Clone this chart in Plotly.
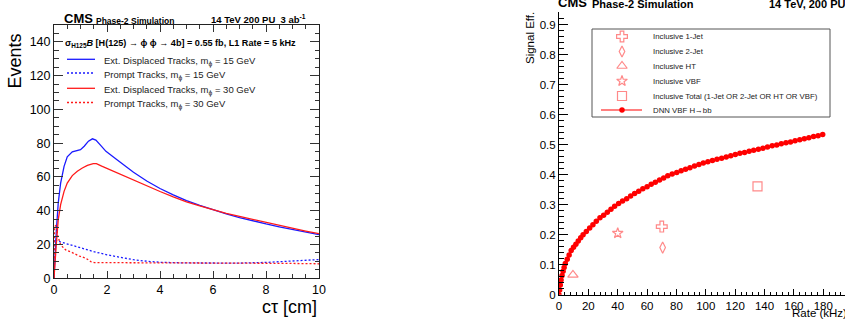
import plotly.graph_objects as go

# ---------------- DATA ----------------
# Left panel: Events vs c*tau [cm]
ct_ext15 = [0, 0.03, 0.09, 0.16, 0.25, 0.38, 0.5, 0.69, 0.88, 1.0, 1.14, 1.3, 1.45, 1.58, 1.77, 1.96,
            2.34, 2.71, 3.0, 3.5, 4.0, 4.5, 5.0, 5.5, 6.0, 6.5, 7.0, 7.5, 8.0, 8.5, 9.0, 9.5, 10.0]
ev_ext15 = [0, 14, 28.7, 44.6, 56.4, 66.3, 71.9, 74.9, 75.8, 76.2, 78.2, 81.2, 82.6, 81.8, 78.6, 75.2,
            70.7, 66.3, 62.8, 57.6, 53.2, 49.4, 46.0, 43.2, 40.6, 38.2, 36.0, 34.0, 32.2, 30.5, 28.9, 27.3, 25.8]

ct_prompt15 = [0, 0.01, 0.25, 0.5, 1.0, 1.5, 2.0, 2.5, 3.0, 3.5, 4.0, 5.0, 6.0, 7.0, 8.0, 9.0, 10.0]
ev_prompt15 = [0, 23, 21.5, 20.3, 18, 15.8, 13.9, 12.3, 11.0, 10.1, 9.5, 9.1, 9.0, 9.0, 9.4, 10.2, 11.1]

ct_ext30 = [0, 0.03, 0.09, 0.16, 0.25, 0.38, 0.5, 0.69, 0.88, 1.07, 1.26, 1.48, 1.6, 1.8, 2.0, 2.5,
            3.0, 3.5, 4.0, 4.5, 5.0, 5.5, 6.0, 6.5, 7.0, 7.5, 8.0, 8.5, 9.0, 9.5, 10.0]
ev_ext30 = [0, 10, 20.8, 34.7, 43.6, 51.5, 56.4, 60.8, 63.4, 65.3, 66.9, 67.9, 67.9, 66.4, 65.0, 61.8,
            58.3, 54.8, 51.4, 48.2, 45.3, 42.9, 40.6, 38.5, 36.6, 34.8, 33.0, 31.3, 29.7, 28.0, 26.4]

ct_prompt30 = [0, 0.02, 0.08, 0.13, 0.25, 0.44, 0.69, 0.95, 1.2, 1.39, 1.52, 1.7, 2.5, 4.0, 5.0, 6.0,
               7.0, 8.0, 9.0, 10.0]
ev_prompt30 = [0, 30.5, 31.5, 25.7, 19.8, 16.8, 15.2, 13.2, 11.9, 9.9, 9.3, 9.3, 9.2, 9.2, 9.2, 9.1,
               9.0, 8.9, 8.8, 8.6]

# Right panel: signal efficiency vs rate [kHz]
dnn_rate = [0.0, 0.45, 0.9, 1.4, 2.1, 2.8, 3.5, 4.3, 5.6, 6.9, 8.3, 9.9, 11.5, 13.1, 14.8, 16.4,
            18.6, 20.9, 23.1, 25.4, 27.9, 30.4, 32.9, 35.4, 37.9, 40.6, 43.3, 46.1, 48.8, 51.5, 54.3,
            57.1, 60.0, 62.8, 65.6, 68.5, 71.3, 74.1, 77.1, 80.2, 83.2, 86.2, 89.2, 92.3, 95.3, 98.3,
            101.4, 104.5, 107.6, 110.8, 113.9, 117.0, 120.1, 123.2, 126.4, 129.5, 132.6, 135.8, 138.9,
            142.0, 145.2, 148.3, 151.4, 154.6, 157.7, 160.8, 164.0, 167.1, 170.2, 173.4, 176.5, 179.6]
dnn_eff = [0.000, 0.016, 0.032, 0.049, 0.064, 0.078, 0.091, 0.104, 0.118, 0.132, 0.147, 0.158, 0.168,
           0.179, 0.190, 0.200, 0.211, 0.222, 0.233, 0.245, 0.256, 0.265, 0.275, 0.285, 0.295, 0.304,
           0.312, 0.320, 0.329, 0.337, 0.345, 0.353, 0.360, 0.368, 0.375, 0.382, 0.389, 0.396, 0.402,
           0.407, 0.413, 0.418, 0.423, 0.429, 0.434, 0.439, 0.443, 0.447, 0.451, 0.455, 0.459, 0.463,
           0.467, 0.471, 0.474, 0.478, 0.481, 0.485, 0.488, 0.492, 0.496, 0.499, 0.503, 0.506, 0.509,
           0.513, 0.516, 0.520, 0.523, 0.527, 0.530, 0.534]

incl_names = ["Inclusive 1-Jet", "Inclusive 2-Jet", "Inclusive HT", "Inclusive VBF",
              "Inclusive Total (1-Jet OR 2-Jet OR HT OR VBF)"]
incl_rate = [70.0, 70.6, 9.5, 40.0, 135.2]
incl_eff = [0.227, 0.157, 0.066, 0.205, 0.361]
incl_symbols = ["cross-open", "diamond-tall-open", "triangle-up-open", "star-open", "square-open"]
incl_sizes = [9, 8, 9, 8, 9]

# ---------------- STYLE / LAYOUT ----------------
W, H = 845, 320
FONT = "Liberation Sans, Arial, sans-serif"
BLUE = "#1a1aff"
RED = "#ff1a1a"
LRED = "rgba(255,40,40,0.55)"


def px(x):
    return x / W


def py(y):
    return 1 - y / H


fig = go.Figure()

# left panel curves
fig.add_trace(go.Scatter(x=ct_ext15, y=ev_ext15, mode="lines", line=dict(color=BLUE, width=1.3),
                         xaxis="x", yaxis="y", showlegend=False))
fig.add_trace(go.Scatter(x=ct_prompt15, y=ev_prompt15, mode="lines",
                         line=dict(color=BLUE, width=1.3, dash="2px,2px"), xaxis="x", yaxis="y",
                         showlegend=False))
fig.add_trace(go.Scatter(x=ct_ext30, y=ev_ext30, mode="lines", line=dict(color=RED, width=1.3),
                         xaxis="x", yaxis="y", showlegend=False))
fig.add_trace(go.Scatter(x=ct_prompt30, y=ev_prompt30, mode="lines",
                         line=dict(color=RED, width=1.3, dash="2px,2px"), xaxis="x", yaxis="y",
                         showlegend=False))

# right panel
fig.add_trace(go.Scatter(x=dnn_rate, y=dnn_eff, mode="lines+markers",
                         line=dict(color="#ff0000", width=1.2),
                         marker=dict(color="#ff0000", size=5.5, symbol="circle"),
                         xaxis="x2", yaxis="y2", showlegend=False))
for i in range(len(incl_names)):
    fig.add_trace(go.Scatter(x=[incl_rate[i]], y=[incl_eff[i]], mode="markers",
                             marker=dict(symbol=incl_symbols[i], size=incl_sizes[i], color=LRED,
                                         line=dict(color=LRED, width=1.2)),
                             xaxis="x2", yaxis="y2", showlegend=False, name=incl_names[i]))

# legend keys for right panel (overlay pixel axis)
leg_y = [36.5, 51.5, 66, 81, 96]
for i in range(len(incl_names)):
    fig.add_trace(go.Scatter(x=[622], y=[leg_y[i]], mode="markers",
                             marker=dict(symbol=incl_symbols[i], size=incl_sizes[i], color=LRED,
                                         line=dict(color=LRED, width=1.2)),
                             xaxis="x3", yaxis="y3", showlegend=False, hoverinfo="skip"))
fig.add_trace(go.Scatter(x=[601, 642], y=[110, 110], mode="lines", line=dict(color="#ff0000", width=1.2),
                         xaxis="x3", yaxis="y3", showlegend=False, hoverinfo="skip"))
fig.add_trace(go.Scatter(x=[622], y=[110], mode="markers", marker=dict(color="#ff0000", size=5.5),
                         xaxis="x3", yaxis="y3", showlegend=False, hoverinfo="skip"))

axis_common = dict(showgrid=False, zeroline=False, ticks="inside", showline=True, automargin=False,
                   tickfont=dict(family=FONT, color="#000"))

fig.update_layout(
    template="none",
    width=W, height=H, margin=dict(l=0, r=0, t=0, b=0, pad=0, autoexpand=False),
    paper_bgcolor="white", plot_bgcolor="rgba(0,0,0,0)",
    font=dict(family=FONT, color="#000"),
    xaxis=dict(axis_common, domain=[px(54), px(319)], range=[0, 10], dtick=2, tick0=0,
               ticklen=7, tickcolor="#333", linecolor="#222", linewidth=1, mirror="allticks",
               tickfont=dict(family=FONT, size=12.5, color="#000"), anchor="y",
               minor=dict(dtick=0.5, ticklen=4, tickcolor="#333", ticks="inside")),
    yaxis=dict(axis_common, domain=[py(278.3), py(25)], range=[0, 150], dtick=20, tick0=0,
               ticklen=9, tickcolor="#333", linecolor="#222", linewidth=1, mirror="allticks",
               tickfont=dict(family=FONT, size=12.5, color="#000"), anchor="x",
               minor=dict(dtick=5, ticklen=4.5, tickcolor="#333", ticks="inside")),
    xaxis2=dict(axis_common, domain=[px(559), 1.0], range=[0, 194.8], dtick=20, tick0=0,
                ticklen=6, tickcolor="#000", linecolor="#000", linewidth=1, mirror=False,
                tickfont=dict(family=FONT, size=11.5, color="#000"), anchor="y2",
                minor=dict(dtick=4, ticklen=3, tickcolor="#000", ticks="inside")),
    yaxis2=dict(axis_common, domain=[py(294.7), py(11.7)], range=[0, 0.943], dtick=0.1, tick0=0,
                ticklen=9, tickcolor="#000", linecolor="#000", linewidth=1, mirror=False,
                tickformat=".1~f",
                tickfont=dict(family=FONT, size=11.5, color="#000"), anchor="x2",
                minor=dict(dtick=0.02, ticklen=5, tickcolor="#000", ticks="inside")),
    xaxis3=dict(domain=[0, 1], range=[0, W], visible=False, anchor="y3", fixedrange=True, automargin=False),
    yaxis3=dict(domain=[0, 1], range=[H, 0], visible=False, anchor="x3", fixedrange=True, automargin=False),
)

shapes = []
# left legend keys
left_leg_y = [59.3, 73, 88.3, 102.5]
left_leg_style = [(BLUE, "solid"), (BLUE, "2px,2px"), (RED, "solid"), (RED, "2px,2px")]
for yy, (c, d) in zip(left_leg_y, left_leg_style):
    shapes.append(dict(type="line", xref="paper", yref="paper", x0=px(67), x1=px(95), y0=py(yy), y1=py(yy),
                       line=dict(color=c, width=1.3, dash=d)))
# right legend box
shapes.append(dict(type="rect", xref="paper", yref="paper", x0=px(592), x1=px(830), y0=py(117), y1=py(29),
                   line=dict(color="#555", width=1), fillcolor="rgba(0,0,0,0)"))
fig.update_layout(shapes=shapes)

ann = []


def text(x, y, s, size, bold=False, xanchor="left", color="#000", angle=0, yanchor="middle"):
    ann.append(dict(x=px(x), y=py(y), xref="paper", yref="paper", text=("<b>%s</b>" % s) if bold else s,
                    showarrow=False, xanchor=xanchor, yanchor=yanchor, textangle=angle,
                    font=dict(family=FONT, size=size, color=color)))


# left header texts
text(62, 19, "CMS", 13, bold=True)
text(94, 20.5, "Phase-2 Simulation", 8.5, bold=True)
text(308, 19.5, "14 TeV 200 PU  3 ab<sup>-1</sup>", 9.5, bold=True, xanchor="right")
text(63, 44, "σ<sub>H125</sub><i>B</i> [H(125) → ϕ ϕ → 4b] = 0.55 fb, L1 Rate = 5 kHz", 9.1, bold=True)
left_leg_text = ["Ext. Displaced Tracks, m<sub>ϕ</sub> = 15 GeV", "Prompt Tracks, m<sub>ϕ</sub> = 15 GeV",
                 "Ext. Displaced Tracks, m<sub>ϕ</sub> = 30 GeV", "Prompt Tracks, m<sub>ϕ</sub> = 30 GeV"]
for yy, t in zip(left_leg_y, left_leg_text):
    text(102, yy + 2, t, 9.5, color="#222")
# axis titles left
text(15, 32, "Events", 18, angle=-90, yanchor="top", xanchor="center")
text(319, 307, "cτ [cm]", 18, xanchor="right")

# right header texts
text(589, 2.5, "CMS", 13, bold=True, xanchor="right")
text(590, 4, "Phase-2 Simulation", 11, bold=True)
text(767, 4, "14 TeV, 200 PU", 11, bold=True)
# right titles
text(530, 10, "Signal Eff.", 11.5, angle=-90, yanchor="top", xanchor="center")
text(849, 313, "Rate (kHz)", 11.5, xanchor="right")
# right legend texts
for yy, t in zip(leg_y, incl_names):
    text(651, yy, t, 7.8, color="#222")
text(651, 110, "DNN VBF H→bb", 7.8, color="#222")

fig.update_layout(annotations=ann)

fig.write_html("out.html", config={"displayModeBar": False, "staticPlot": True},
               post_script="document.body.style.margin='0';document.body.style.overflow='hidden';")
